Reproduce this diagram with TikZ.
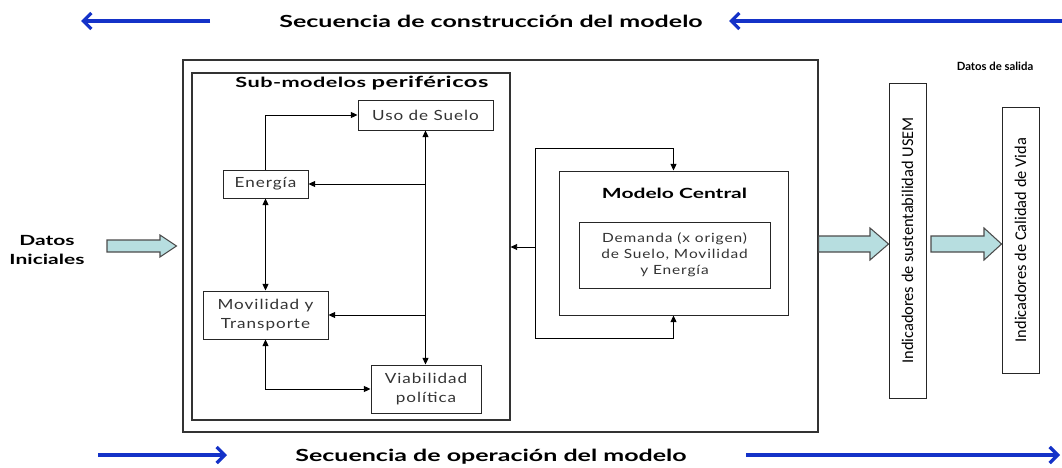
\documentclass[tikz,border=0pt]{standalone}
\usepackage{fontspec}
\setmainfont{Lato}
\newfontfamily\boxfont[FakeStretch=1.22,LetterSpace=7]{Lato}
\newfontfamily\titlefont[FakeStretch=1.5]{Lato}
\newfontfamily\subfont[FakeStretch=1.55,LetterSpace=3]{Lato}
\newfontfamily\smallfont[FakeStretch=1.0]{Lato}
\newfontfamily\vfont{Carlito}
\usetikzlibrary{arrows.meta,calc}
\definecolor{arrowblue}{RGB}{20,50,200}
\definecolor{cyanfill}{RGB}{183,222,224}
\begin{document}
\begin{tikzpicture}[x=0.75pt,y=-0.75pt,
  box/.style={draw=black!85, line width=0.7pt, fill=white, align=center, inner sep=0pt,
    font=\boxfont\fontsize{10.5}{14.5}\selectfont, text=black!80},
  frame/.style={draw=black!80, line width=0.8pt, inner sep=0pt},
  title/.style={font=\titlefont\bfseries\fontsize{10.5}{14}\selectfont, inner sep=0pt, align=center},
  link/.style={line width=0.7pt, -{Triangle[length=5pt,width=4.5pt]}},
  blink/.style={line width=0.7pt, {Triangle[length=5pt,width=4.5pt]}-{Triangle[length=5pt,width=4.5pt]}},
  seq/.style={arrowblue, line width=3pt, -{Straight Barb[length=6pt,width=12pt,line width=2.5pt]}},
  blockarrow/.style={draw=black!70, line width=0.8pt, fill=cyanfill},
  vbox/.style={draw=black!85, line width=0.7pt, inner sep=0pt, rotate=90,
    font=\vfont\fontsize{12.3}{14}\selectfont}]
\useasboundingbox (0,0) rectangle (1062,467);

% sequence arrows and titles
\node[title, font=\titlefont\bfseries\fontsize{12.5}{14}\selectfont, anchor=base] (topt) at (491,28) {Secuencia de construcción del modelo};
\node[title, font=\titlefont\bfseries\fontsize{12.5}{14}\selectfont, anchor=base] (bott) at (491,461) {Secuencia de operación del modelo};
\coordinate (tl1) at (210,21); \coordinate (tl2) at (81,21);
\coordinate (tr1) at (1062,21); \coordinate (tr2) at (729,21);
\coordinate (bl1) at (98,455); \coordinate (bl2) at (227,455);
\coordinate (br1) at (746,455); \coordinate (br2) at (1060,455);
\draw[seq] (tl1) -- (tl2);
\draw[seq] (tr1) -- (tr2);
\draw[seq] (bl1) -- (bl2);
\draw[seq] (br1) -- (br2);

% frames
\node[frame, minimum width=476.25pt, minimum height=279pt] (outer) at (500.5,246) {};
\node[frame, minimum width=238.5pt, minimum height=260.25pt] (sub) at (351,246.5) {};
\node[title, font=\subfont\bfseries\fontsize{10.5}{14}\selectfont, anchor=base] (subt) at (362,88) {Sub-modelos {\fontsize{11.5}{14}\selectfont periféricos}};

% sub-model boxes
\node[box, minimum width=101.25pt, minimum height=22.5pt] (uso) at (425.5,115) {Uso de Suelo};
\node[box, minimum width=63.75pt, minimum height=21pt] (ener) at (265.5,184) {Energía};
\node[box, minimum width=93.75pt, minimum height=36pt] (mov) at (265.5,315) {Movilidad y\\Transporte};
\node[box, minimum width=82.5pt, minimum height=36pt] (viab) at (426,389) {Viabilidad\\política};

\draw[blink] (uso.south) -- (uso.south |- viab.north);
\draw[link] (uso.south |- ener.east) -- (ener.east);
\draw[link] (uso.south |- mov.east) -- (mov.east);
\draw[link] (ener.north) |- (uso.west);
\draw[blink] (ener.south) -- (mov.north);
\draw[blink] (mov.south) |- (viab.west);

% central model
\node[frame, draw=black!85, line width=0.7pt, minimum width=171.75pt, minimum height=108pt] (mc) at (673.5,243) {};
\node[title, anchor=base] (mct) at (674.5,198) {Modelo Central};
\node[box, font=\boxfont\fontsize{9.5}{12}\selectfont, minimum width=143.25pt, minimum height=49.5pt] (dem) at (674.5,255) {Demanda (x origen)\\de Suelo, Movilidad\\y Energía};
\coordinate (c1) at (535,148);
\coordinate (c2) at (535,338);
\coordinate (c3) at (535,247);
\draw[line width=0.7pt] (c1) -- (c2);
\draw[link] (c1) -| (mc.north);
\draw[link] (c2) -| (mc.south);
\draw[link] (c3) -- (sub.east |- c3);

% inputs / outputs
\node[title, font=\titlefont\bfseries\fontsize{10.5}{14}\selectfont] (datos) at (47,250) {Datos\\Iniciales};
\node[title, font=\smallfont\bfseries\fontsize{8.5}{10}\selectfont, anchor=base] (salida) at (995,70) {Datos de salida};
\node[vbox, minimum width=236.25pt, minimum height=27.75pt] (usem) at (907.5,240.5) {Indicadores de sustentabilidad USEM};
\node[vbox, minimum width=199.5pt, minimum height=27.75pt] (cal) at (1020.5,240) {Indicadores de Calidad de Vida};

% block arrows
\draw[blockarrow] (107,240) -- (160,240) -- (160,235) -- ($(outer.west)+(-6,0)$) -- (160,257) -- (160,252) -- (107,252) -- cycle;
\draw[blockarrow] (outer.east |- 0,236) -- (870,236) -- (870,228) -- (usem.north |- 0,244) -- (870,260) -- (870,252) -- (outer.east |- 0,252) -- cycle;
\draw[blockarrow] (931,236) -- (984,236) -- (984,228) -- (cal.north |- 0,244) -- (984,260) -- (984,252) -- (931,252) -- cycle;
\end{tikzpicture}
\end{document}
